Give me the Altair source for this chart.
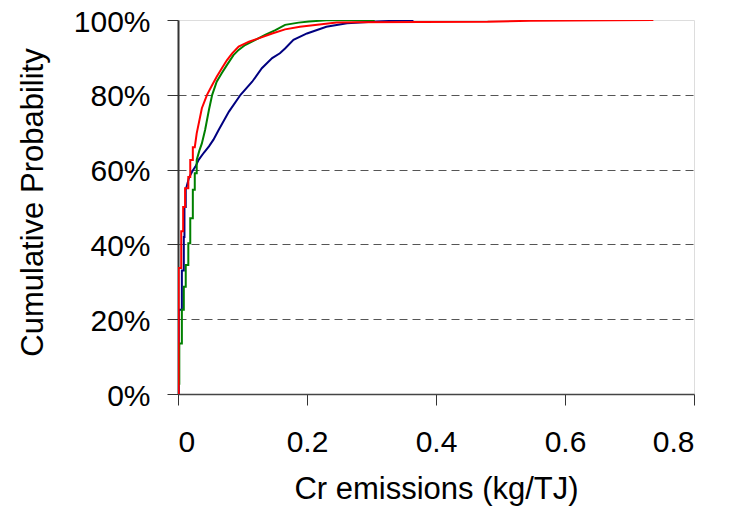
import altair as alt
import pandas as pd

# Cumulative probability curves (x in kg/TJ, p in %)
blue_x = [0.000, 0.001, 0.001, 0.006, 0.006, 0.009, 0.009, 0.010, 0.010, 0.012, 0.012,
          0.017, 0.022, 0.027, 0.032, 0.040, 0.048, 0.055, 0.063, 0.079, 0.097, 0.115,
          0.130, 0.146, 0.158, 0.166, 0.179, 0.200, 0.230, 0.262, 0.308, 0.365]
blue_p = [0, 0, 22.5, 22.5, 33, 33, 42, 42, 50, 50, 54.6,
          57.8, 59.5, 60.8, 62.6, 64.5, 66.2, 68, 70.6, 75.5, 80, 83.5,
          87.1, 89.8, 91.1, 92.4, 94.7, 96.4, 98.2, 99.1, 99.6, 100]

green_x = [0.002, 0.002, 0.006, 0.006, 0.009, 0.009, 0.012, 0.012, 0.016, 0.016, 0.019,
           0.019, 0.023, 0.023, 0.026, 0.026, 0.029, 0.029, 0.033, 0.037, 0.042, 0.048,
           0.053, 0.060, 0.068, 0.076, 0.086, 0.094, 0.104, 0.120, 0.135, 0.151, 0.166,
           0.187, 0.203, 0.230, 0.305]
green_p = [2.5, 13.5, 13.5, 22.5, 22.5, 28.7, 28.7, 34.5, 34.5, 40.3, 40.3,
           47, 47, 54.6, 54.6, 59, 59, 62.6, 65, 67, 70.6, 76,
           80, 83.5, 85.8, 88, 90.6, 92, 93.3, 94.7, 96, 97.3, 98.7,
           99.3, 99.6, 99.9, 100]

red_x = [0.000, 0.001, 0.001, 0.005, 0.005, 0.008, 0.008, 0.011, 0.011, 0.016, 0.016,
         0.019, 0.019, 0.023, 0.023, 0.026, 0.029, 0.037, 0.045, 0.053, 0.060, 0.068,
         0.076, 0.084, 0.094, 0.110, 0.125, 0.146, 0.166, 0.189, 0.246, 0.277, 0.480,
         0.546, 0.737]
red_p = [0, 0, 33.7, 33.7, 43.5, 43.5, 50, 50, 55, 55, 58,
         58, 62.6, 62.6, 66, 66, 69.7, 76.4, 80, 82.6, 84.8, 87.1,
         89.3, 91.1, 92.9, 94.2, 95.1, 96.4, 97.5, 98.2, 99.3, 99.4, 99.5,
         99.8, 100]

x_ticks = [0, 0.2, 0.4, 0.6, 0.8]
y_ticks = [0, 0.2, 0.4, 0.6, 0.8, 1.0]

rows = []
for name, xs, ps in [("blue", blue_x, blue_p), ("green", green_x, green_p), ("red", red_x, red_p)]:
    for i, (x, p) in enumerate(zip(xs, ps)):
        rows.append({"series": name, "i": i, "x": x, "p": p / 100.0})
df = pd.DataFrame(rows)

FONT = "Liberation Sans"

chart = alt.Chart(df).mark_line(strokeWidth=2, clip=True).encode(
    x=alt.X("x:Q",
            scale=alt.Scale(domain=[0, 0.8], nice=False, zero=False),
            axis=alt.Axis(values=x_ticks, format="~g", title="Cr emissions (kg/TJ)",
                          grid=False, tickSize=11, tickColor="#333333",
                          domainColor="#444444", domainWidth=1.5,
                          labelFontSize=30, labelFont=FONT, labelColor="black",
                          labelPadding=22, labelBaseline="top",
                          titleFontSize=31, titleFont=FONT, titleFontWeight="normal",
                          titleColor="black", titleX=258, titleY=104,
                          titleBaseline="alphabetic", titleAlign="center")),
    y=alt.Y("p:Q",
            scale=alt.Scale(domain=[0, 1], nice=False),
            axis=alt.Axis(values=y_ticks, format=".0%", title="Cumulative Probability",
                          grid=True, gridColor="#555555", gridDash=[8, 5], gridWidth=1,
                          gridOpacity={"condition": {"test": "datum.value == 0 || datum.value == 1", "value": 0}, "value": 1},
                          tickSize=11, tickColor="#333333",
                          domainColor="#333333", domainWidth=2,
                          labelFontSize=30, labelFont=FONT, labelColor="black",
                          labelPadding=17, labelOffset=2,
                          titleFontSize=31, titleFont=FONT, titleFontWeight="normal",
                          titleColor="black", titleX=-136, titleY=182, titleAngle=-90,
                          titleBaseline="alphabetic", titleAlign="center")),
    color=alt.Color("series:N",
                    scale=alt.Scale(domain=["blue", "green", "red"],
                                    range=["#000080", "#008000", "#FF0000"]),
                    legend=None),
    order=alt.Order("i:Q"),
    detail="series:N",
).properties(
    width=516,
    height=374,
    autosize="none",
    padding={"left": 170, "top": 12, "right": 32, "bottom": 112},
).configure_view(
    stroke="#999999",
    strokeWidth=2,
).configure(background="white")

chart.save("out.html", embed_options={"renderer": "svg", "actions": False})
